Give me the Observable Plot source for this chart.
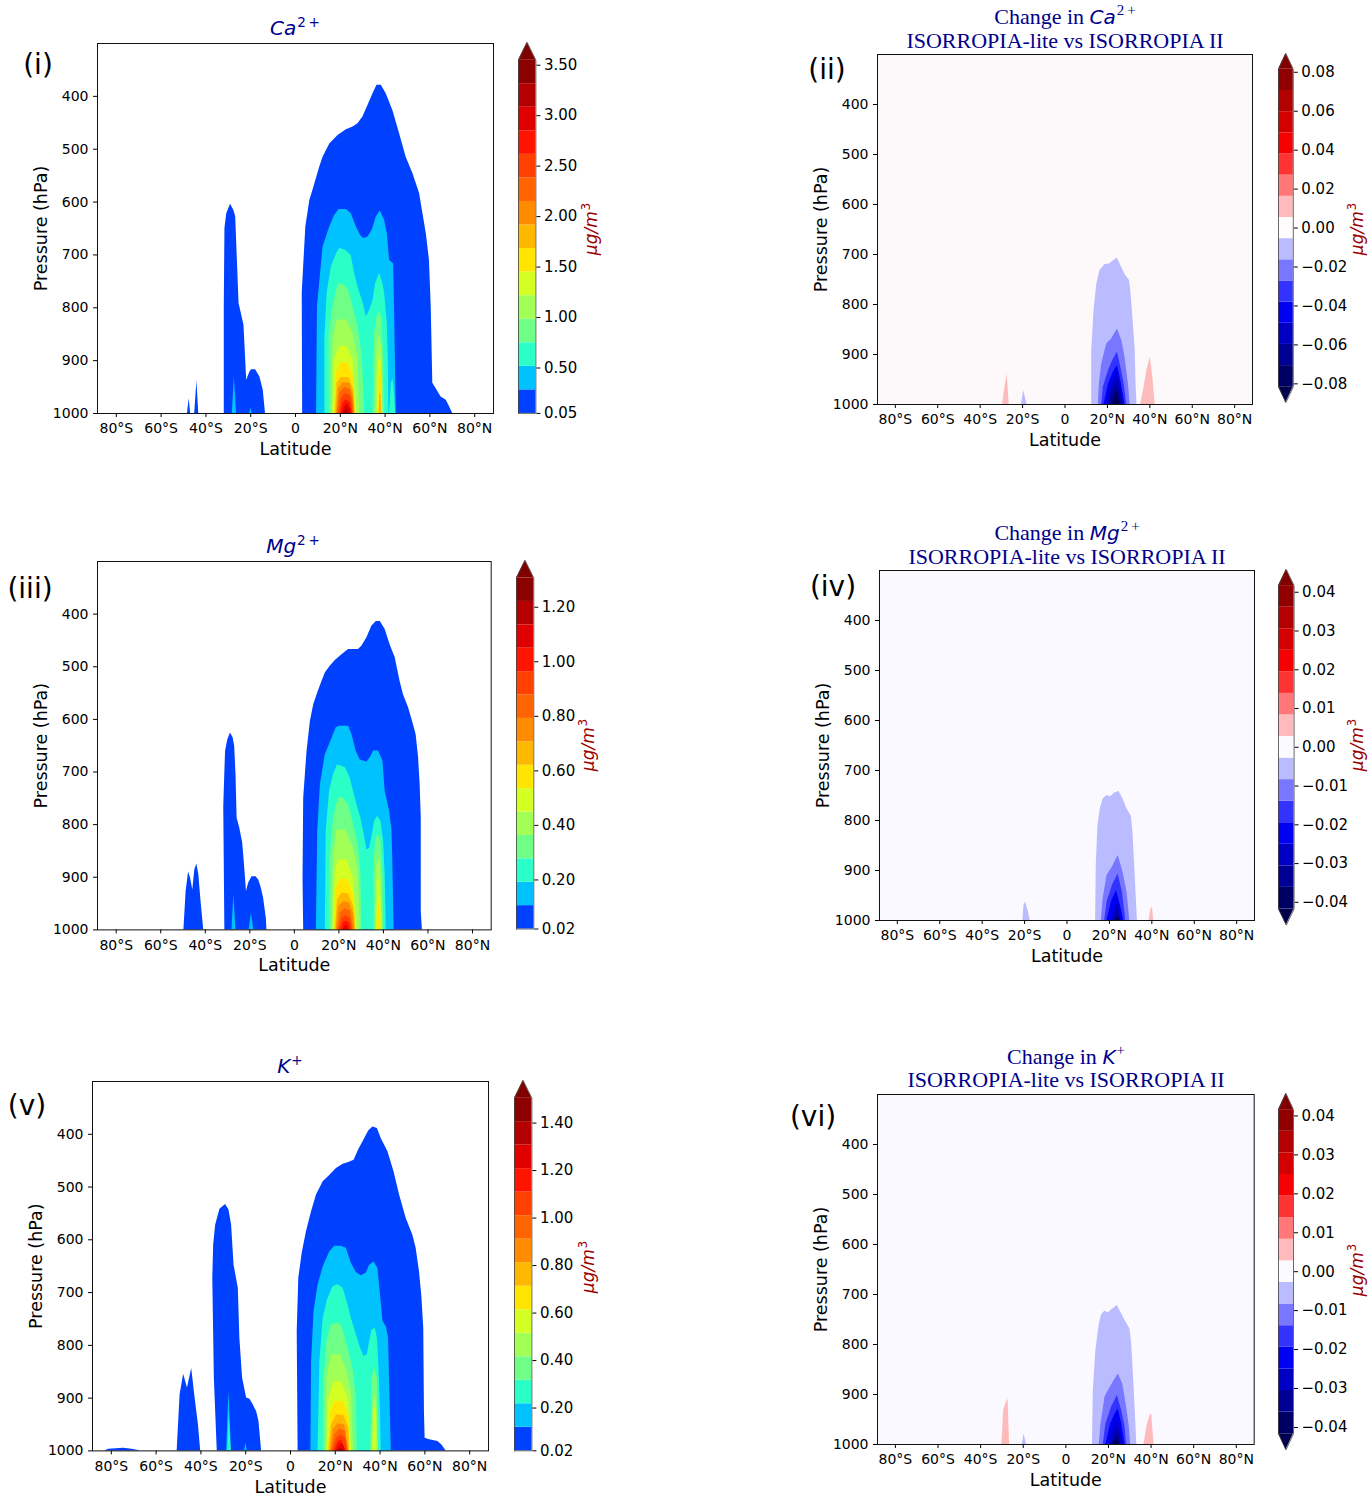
<!DOCTYPE html>
<html><head><meta charset="utf-8">
<script src="https://cdn.jsdelivr.net/npm/d3@7"></script>
<script src="https://cdn.jsdelivr.net/npm/@observablehq/plot@0.6"></script>
<style>
body{margin:0;background:#fff;}
#root{position:relative;width:1372px;height:1498px;overflow:hidden;font-family:"DejaVu Sans",sans-serif;background:#fff;}
.t{position:absolute;transform:translate(-50%,-50%);white-space:nowrap;line-height:1;}
.sup{font-size:0.68em;position:relative;top:-0.6em;font-style:normal;margin-left:1px;}
.mi{font-family:"DejaVu Sans",sans-serif;font-style:italic;}
</style></head><body><div id="root"></div>
<script>
// ---------- axes ticks ----------
const latTicks = [-80, -60, -40, -20, 0, 20, 40, 60, 80];
const presTicks = [400, 500, 600, 700, 800, 900, 1000];
const caTicks = [0.05, 0.5, 1.0, 1.5, 2.0, 2.5, 3.0, 3.5];
const mgTicks = [0.02, 0.2, 0.4, 0.6, 0.8, 1.0, 1.2];
const kTicks = [0.02, 0.2, 0.4, 0.6, 0.8, 1.0, 1.2, 1.4];
const caDiffTicks = [-0.08, -0.06, -0.04, -0.02, 0, 0.02, 0.04, 0.06, 0.08];
const smallDiffTicks = [-0.04, -0.03, -0.02, -0.01, 0, 0.01, 0.02, 0.03, 0.04];

// ---------- colour levels ----------
const jetColors = ["#0040ff","#00c2ff","#2affc8","#70ff86","#a2ff55","#d4ff22","#ffe500","#ffb800","#ff8c00","#ff6400","#ff4000","#ff1400","#e00000","#b40000","#8c0000"];
const jetOver = "#800000";
const negColors = ["#bbbbff","#7777ff","#3333ff","#0000f3","#0000c4","#000094","#000064","#00004c"];
const posColors = ["#ffbbbb","#ff7777","#ff3333","#f60000","#d40000","#b30000","#900000","#800000"];

// ---------- filled-contour outlines: per band, segments of [latitude, top pressure] ----------
const caBands = [
 [
  [[-48.2,1000],[-47.5,972],[-46.8,1000]],
  [[-45.0,1000],[-44.0,938],[-43.2,1000]],
  [[-31.8,1000],[-31.8,798],[-31.5,650],[-30.7,622],[-29.0,604],[-27.5,616],[-26.7,628],[-26.3,672],[-25.2,792],[-23.0,833],[-21.8,937],[-20.3,921],[-19.6,917],[-17.8,917],[-15.9,931],[-14.4,956],[-13.4,1000]],
  [[3.2,1000],[3.0,773],[4.6,647],[6.4,597],[8.2,572],[10.8,534],[12.3,515],[15.3,490],[19.0,474],[22.7,463],[25.7,458],[27.9,452],[30.1,439],[32.4,417],[34.6,395],[36.4,379],[38.3,379],[40.5,395],[43.5,427],[46.5,471],[49.4,515],[52.4,546],[55.4,584],[56.9,622],[58.4,660],[59.8,710],[60.6,798],[61.3,943],[62.8,953],[65.0,969],[67.3,975],[68.4,984],[70.2,1000]]
 ],
 [
  [[-28.2,1000],[-27.3,931],[-26.3,1000]],
  [[-20.5,1000],[-19.9,990],[-19.3,1000]],
  [[9.4,1000],[9.8,798],[12.3,685],[15.3,647],[17.5,625],[19.5,614],[22.7,614],[24.9,622],[27.2,647],[29.0,663],[30.4,669],[32.4,666],[34.3,653],[36.1,628],[37.9,617],[39.8,635],[41.0,660],[42.0,710],[43.8,717],[44.2,798],[45.0,1000]]
 ],
 [
  [[13.1,1000],[13.1,861],[14.1,773],[16.0,723],[18.3,698],[19.7,688],[22.4,691],[24.9,701],[26.4,735],[27.9,761],[30.1,789],[31.6,817],[33.1,805],[34.6,786],[35.8,754],[37.6,735],[39.0,754],[39.8,773],[41.0,830],[41.4,893],[41.7,1000]],
  [[42.0,1000],[42.8,943],[43.5,934],[44.2,962],[44.7,1000]]
 ],
 [
  [[15.0,1000],[15.0,849],[16.8,798],[18.3,767],[19.5,754],[21.5,757],[23.5,764],[25.7,798],[27.9,836],[29.8,893],[30.9,1000]],
  [[34.6,1000],[35.3,849],[36.4,817],[37.6,806],[38.6,824],[39.3,893],[39.8,1000]]
 ],
 [
  [[16.0,1000],[16.8,861],[18.6,824],[22.7,822],[25.7,849],[27.9,899],[28.7,1000]],
  [[35.6,1000],[36.4,874],[37.4,852],[38.5,874],[39.0,1000]]
 ],
 [
  [[16.8,1000],[17.5,899],[19.5,874],[23.0,873],[25.7,899],[27.2,1000]],
  [[36.4,1000],[37.0,906],[37.7,887],[38.3,906],[38.8,1000]]
 ],
 [
  [[17.4,1000],[18.3,924],[20.0,904],[23.5,904],[26.0,931],[26.7,1000]],
  [[37.0,1000],[37.4,924],[37.9,915],[38.3,931],[38.6,1000]]
 ],
 [
  [[17.8,1000],[18.6,943],[20.5,932],[23.9,932],[26.1,956],[26.6,1000]],
  [[37.3,1000],[37.7,962],[38.2,962],[38.5,1000]]
 ],
 [[[18.3,1000],[19.2,953],[21.2,942],[24.2,943],[26.0,969],[26.4,1000]]],
 [[[18.7,1000],[19.7,962],[22.0,951],[24.5,955],[25.8,981],[26.1,1000]]],
 [[[19.3,1000],[20.5,972],[22.4,962],[24.6,967],[25.7,1000]]],
 [[[20.0,1000],[21.2,980],[22.7,974],[24.5,980],[25.4,1000]]],
 [[[20.8,1000],[22.0,987],[23.0,982],[24.4,991],[24.9,1000]]],
 [[[21.5,1000],[22.7,992],[23.9,1000]]]
];

const mgBands = [
 [
  [[-49.6,1000],[-48.6,927],[-47.5,890],[-46.6,902],[-45.6,924],[-44.7,886],[-43.8,875],[-42.9,895],[-41.9,946],[-40.7,1000]],
  [[-31.2,1000],[-31.7,765],[-30.9,661],[-29.9,639],[-28.7,626],[-27.5,635],[-26.8,651],[-26.2,705],[-25.7,788],[-24.5,807],[-23.2,835],[-22.4,876],[-21.5,927],[-20.5,911],[-19.0,899],[-17.2,899],[-16.0,905],[-15.0,918],[-13.8,940],[-12.6,978],[-12.3,1000]],
  [[4.2,1000],[3.9,902],[4.2,750],[5.7,661],[7.2,604],[8.7,572],[10.5,550],[12.4,528],[13.9,512],[16.1,499],[18.4,488],[20.6,480],[22.9,472],[24.4,467],[28.8,467],[30.3,461],[32.6,445],[34.8,423],[36.8,414],[38.6,414],[40.8,429],[43.0,458],[45.3,483],[47.5,528],[49.0,553],[51.3,578],[53.5,610],[54.7,629],[55.8,673],[56.5,724],[57.0,788],[57.0,965],[57.5,1000]]
 ],
 [
  [[-28.0,1000],[-27.2,933],[-26.2,1000]],
  [[-20.3,1000],[-19.3,968],[-18.2,1000]],
  [[9.9,1000],[10.5,813],[11.7,724],[13.9,667],[16.1,645],[18.8,616],[20.3,613],[24.4,613],[25.9,629],[27.8,661],[29.6,677],[32.6,681],[34.1,673],[35.6,660],[37.8,660],[39.8,680],[40.8,737],[42.8,775],[43.8,810],[44.2,864],[44.8,1000]]
 ],
 [[[13.9,1000],[14.3,813],[15.8,737],[17.6,705],[19.4,686],[22.9,692],[25.1,712],[26.6,737],[28.1,762],[29.9,788],[31.4,819],[32.6,848],[33.8,845],[35.3,813],[36.0,794],[37.4,784],[38.9,794],[40.1,832],[40.8,895],[41.3,1000]]],
 [
  [[15.8,1000],[16.1,864],[17.3,800],[18.8,762],[20.3,748],[22.4,751],[24.4,762],[25.9,788],[27.4,813],[28.8,838],[29.9,895],[30.3,1000]],
  [[35.6,1000],[35.9,864],[36.8,826],[38.0,819],[38.9,832],[39.8,895],[40.1,1000]]
 ],
 [
  [[16.9,1000],[17.6,864],[19.1,810],[22.9,810],[26.6,845],[28.8,895],[29.6,1000]],
  [[36.3,1000],[37.1,876],[38.0,864],[38.9,876],[39.5,1000]]
 ],
 [
  [[17.6,1000],[18.4,889],[19.9,867],[23.6,867],[26.6,902],[28.1,1000]],
  [[36.8,1000],[37.7,902],[38.6,911],[39.2,1000]]
 ],
 [
  [[18.1,1000],[18.8,921],[20.9,903],[23.9,905],[26.6,933],[27.8,1000]],
  [[37.4,1000],[38.0,940],[38.7,1000]]
 ],
 [[[18.4,1000],[19.4,943],[21.4,930],[24.4,932],[26.9,959],[27.5,1000]]],
 [[[18.8,1000],[19.9,956],[22.1,946],[24.8,949],[26.6,971],[27.2,1000]]],
 [[[19.4,1000],[20.6,968],[22.9,960],[25.1,964],[26.6,1000]]],
 [[[20.0,1000],[21.4,978],[23.2,973],[25.1,978],[26.2,1000]]],
 [[[20.9,1000],[22.1,985],[23.3,983],[24.7,987],[25.4,1000]]],
 [[[21.7,1000],[23.3,990],[24.7,1000]]]
];

const kBands = [
 [
  [[-83.0,1000],[-81.2,997],[-74.5,995],[-70.8,997],[-66.7,1000]],
  [[-50.6,1000],[-49.3,894],[-47.7,855],[-46.0,881],[-44.1,844],[-42.6,900],[-41.1,951],[-40.1,1000]],
  [[-32.7,1000],[-34.0,862],[-34.7,673],[-34.3,610],[-33.4,572],[-31.5,542],[-29.0,533],[-27.5,543],[-26.3,572],[-25.2,648],[-23.3,692],[-22.6,787],[-21.4,862],[-19.6,900],[-18.1,902],[-16.6,913],[-15.1,926],[-14.1,944],[-12.9,1000]],
  [[3.4,1000],[3.0,774],[3.7,673],[5.2,626],[7.1,585],[9.4,547],[11.6,515],[14.6,490],[17.5,478],[20.5,465],[23.5,457],[25.7,454],[28.4,449],[30.4,430],[32.8,411],[34.9,394],[36.8,386],[38.8,389],[40.5,408],[43.5,433],[46.2,471],[48.7,515],[51.7,560],[54.6,591],[56.1,616],[57.6,661],[58.6,705],[59.5,768],[59.8,926],[60.1,976],[62.1,979],[65.8,982],[67.6,989],[69.5,1000]]
 ],
 [
  [[-28.5,1000],[-27.5,888],[-26.3,1000]],
  [[-20.5,1000],[-19.9,985],[-19.3,1000]],
  [[9.1,1000],[9.4,831],[10.5,736],[12.3,686],[14.6,651],[17.5,623],[19.7,612],[22.7,612],[24.9,616],[27.2,645],[29.4,662],[31.6,668],[33.9,663],[35.3,648],[37.3,642],[39.0,654],[40.2,705],[41.3,755],[42.8,765],[43.8,787],[44.2,862],[45.0,1000]]
 ],
 [
  [[-28.0,1000],[-27.3,926],[-26.6,1000]],
  [[12.3,1000],[13.1,831],[14.6,749],[16.5,714],[19.0,689],[21.2,685],[23.5,692],[25.7,724],[27.2,749],[29.4,780],[31.3,806],[32.8,821],[34.3,818],[35.3,793],[36.4,771],[37.9,768],[38.8,787],[39.5,844],[40.2,926],[40.5,1000]]
 ],
 [
  [[14.6,1000],[15.0,862],[16.3,793],[18.3,761],[20.9,757],[23.0,764],[25.7,806],[27.9,844],[29.4,900],[29.8,1000]],
  [[35.8,1000],[36.4,862],[37.6,844],[38.8,862],[39.3,1000]]
 ],
 [
  [[15.6,1000],[16.3,862],[18.3,818],[22.0,817],[24.9,844],[27.2,888],[28.1,1000]],
  [[36.4,1000],[37.0,900],[37.9,894],[38.8,926],[39.0,1000]]
 ],
 [
  [[16.3,1000],[17.2,900],[19.5,870],[22.7,869],[25.7,900],[27.2,1000]],
  [[36.8,1000],[37.4,919],[38.2,919],[38.6,1000]]
 ],
 [[[16.8,1000],[18.0,926],[20.0,905],[23.5,907],[26.0,932],[26.7,1000]]],
 [[[17.2,1000],[18.3,951],[20.5,932],[23.8,933],[26.0,957],[26.4,1000]]],
 [[[17.8,1000],[19.0,960],[21.2,948],[24.2,951],[26.1,1000]]],
 [[[18.3,1000],[19.7,970],[22.0,958],[24.5,963],[25.7,1000]]],
 [[[19.0,1000],[20.5,977],[22.4,970],[24.6,976],[25.4,1000]]],
 [[[19.7,1000],[21.2,984],[22.7,979],[24.9,1000]]],
 [[[20.5,1000],[22.0,989],[23.5,987],[24.5,1000]]],
 [[[21.2,1000],[22.7,994],[23.9,1000]]]
];

// differences: negative bands (index 0 = just below zero), positive bands
const caDiffNeg = [
 [[[-20.5,1000],[-19.5,972],[-17.9,1000]], [[12.6,1000],[12.6,892],[13.7,812],[15.0,759],[16.5,732],[18.9,720],[20.9,719],[22.8,713],[24.7,707],[26.3,722],[28.3,740],[30.4,752],[31.0,772],[32.0,825],[33.1,892],[33.5,959],[33.9,1000]]],
 [[[15.7,1000],[16.2,959],[17.3,919],[19.7,879],[22.0,869],[24.7,849],[26.8,872],[28.3,905],[29.9,959],[30.7,1000]]],
 [[[17.3,1000],[18.1,965],[20.5,932],[22.5,912],[24.7,895],[26.3,925],[27.9,959],[29.1,1000]]],
 [[[18.4,1000],[20.5,959],[22.8,935],[24.7,922],[26.3,952],[28.3,1000]]],
 [[[19.7,1000],[21.6,965],[23.6,945],[24.7,937],[26.0,959],[27.6,1000]]],
 [[[20.9,1000],[22.8,972],[24.7,959],[26.3,985],[27.2,1000]]],
 [[[22.0,1000],[23.6,982],[24.7,975],[26.0,1000]]],
 [[[23.1,1000],[24.4,989],[25.4,1000]]]
];
const caDiffPos = [
 [[[-29.4,1000],[-28.3,965],[-27.2,939],[-26.3,1000]], [[35.7,1000],[37.0,972],[38.6,932],[40.2,905],[41.4,945],[42.5,1000]]]
];
const mgDiffNeg = [
 [[[-20.8,1000],[-20.3,970],[-19.5,963],[-18.2,983],[-17.3,1000]], [[13.5,1000],[13.8,890],[14.6,810],[15.7,777],[17.0,757],[18.9,750],[20.4,753],[22.5,745],[24.5,742],[26.4,757],[28.3,777],[30.3,791],[31.1,823],[31.9,890],[32.7,957],[33.2,1000]]],
 [[[16.2,1000],[17.0,957],[18.9,910],[21.4,893],[24.1,870],[26.4,903],[28.3,943],[29.6,1000]]],
 [[[17.8,1000],[18.9,963],[21.4,930],[24.1,907],[26.1,943],[27.7,1000]]],
 [[[18.9,1000],[20.9,963],[23.3,940],[25.2,970],[26.7,1000]]],
 [[[20.9,1000],[22.5,977],[24.1,963],[25.6,1000]]],
 [[[22.2,1000],[23.7,983],[25.2,1000]]],
 [[[23.0,1000],[24.1,991],[24.8,1000]]],
 [[[23.4,1000],[24.0,995],[24.6,1000]]]
];
const mgDiffPos = [
 [[[38.7,1000],[39.6,977],[40.3,973],[40.9,1000]]]
];
const kDiffNeg = [
 [[[-20.4,1000],[-19.6,979],[-18.5,1000]], [[12.5,1000],[12.9,892],[14.1,812],[15.7,759],[16.8,740],[18.4,733],[19.9,737],[22.0,729],[24.2,722],[25.7,735],[27.8,752],[30.1,769],[30.9,799],[31.7,859],[32.5,925],[33.3,1000]]],
 [[[15.7,1000],[16.5,959],[18.4,905],[20.4,889],[22.3,875],[24.6,859],[26.7,879],[28.5,925],[29.8,965],[30.4,1000]]],
 [[[17.6,1000],[18.8,959],[21.5,925],[24.2,902],[26.2,932],[27.8,965],[28.5,1000]]],
 [[[18.8,1000],[21.0,959],[23.1,939],[24.6,929],[26.2,959],[27.8,1000]]],
 [[[20.4,1000],[22.3,972],[24.2,952],[25.7,979],[27.0,1000]]],
 [[[21.5,1000],[23.1,985],[24.5,972],[25.7,1000]]],
 [[[22.6,1000],[23.8,985],[25.1,1000]]],
 [[[23.2,1000],[24.0,991],[24.7,1000]]]
];
const kDiffPos = [
 [[[-30.0,1000],[-29.2,932],[-27.9,915],[-27.1,909],[-26.4,1000]], [[36.7,1000],[38.0,965],[39.5,942],[40.3,939],[41.4,1000]]]
];

// ---------- helpers ----------
const root = document.getElementById("root");
const fmtLat = d => d === 0 ? "0" : `${Math.abs(d)}°${d < 0 ? "S" : "N"}`;
const fmt2 = d => (d < 0 ? "\u2212" : "") + Math.abs(d).toFixed(2);

function place(el, left, top) {
  el.style.position = "absolute";
  el.style.left = left + "px";
  el.style.top = top + "px";
  root.appendChild(el);
}
function label(html, x, y, style) {
  const d = document.createElement("div");
  d.className = "t";
  d.innerHTML = html;
  d.style.left = x + "px";
  d.style.top = y + "px";
  Object.assign(d.style, style || {});
  root.appendChild(d);
}
function bandAreas(bands, colors) {
  return bands.map((segs, k) => {
    const rows = segs.flatMap((seg, s) => seg.map(([lat, p]) => ({lat, p, s})));
    return Plot.area(rows, {x1: "lat", y1: () => 1000, y2: "p", z: "s", fill: colors[k], curve: "linear"});
  });
}

function panel(cfg) {
  const mL = 80, mR = 8, mT = 8, mB = 52;
  const svg = Plot.plot({
    width: cfg.w + mL + mR, height: cfg.h + mT + mB,
    marginLeft: mL, marginRight: mR, marginTop: mT, marginBottom: mB,
    style: {fontFamily: "DejaVu Sans", fontSize: "14px", background: "transparent", color: "black", overflow: "visible"},
    x: {domain: [-88.4, 88.4], ticks: latTicks, tickFormat: fmtLat, tickSize: 4, tickPadding: 6, label: null},
    y: {domain: [1000, 300], ticks: presTicks, tickFormat: d => String(d), tickSize: 4, tickPadding: 5, label: null},
    marks: [
      cfg.bg ? Plot.frame({fill: cfg.bg}) : null,
      ...cfg.marks,
      Plot.text(["Latitude"], {text: d => d, frameAnchor: "bottom", dy: 36, textAnchor: "middle", lineAnchor: "middle", fontSize: 17.5}),
      Plot.text(["Pressure (hPa)"], {text: d => d, frameAnchor: "left", dx: -56, rotate: -90, textAnchor: "middle", lineAnchor: "middle", fontSize: 17.5}),
      Plot.frame({stroke: "#111", strokeWidth: 1})
    ]
  });
  place(svg, cfg.l - mL, cfg.t - mT);
}

function colorbar(cfg) {
  const {l, barTop, barBottom, barW, vmin, vmax, colors, extLow, extHigh, ticks} = cfg;
  const n = colors.length, step = (vmax - vmin) / n, ext = 0.05 * (vmax - vmin);
  const bands = colors.map((c, i) => ({lo: vmin + i * step, hi: vmin + (i + 1) * step, c}));
  const yTop = vmax + ext, yBot = extLow ? vmin - ext : vmin;
  const k = (barBottom - barTop) / (vmax - vmin);
  const mT = 3, mB = 3, mL = 1, mR = 80;
  const topTri = [{x: 0, y: vmax}, {x: 0.5, y: yTop}, {x: 1, y: vmax}];
  const botTri = [{x: 0, y: vmin}, {x: 0.5, y: yBot}, {x: 1, y: vmin}];
  const outline = [{x: 0, y: vmin}, {x: 0, y: vmax}, {x: 0.5, y: yTop}, {x: 1, y: vmax}, {x: 1, y: vmin}]
    .concat(extLow ? [{x: 0.5, y: yBot}] : []).concat([{x: 0, y: vmin}]);
  const svg = Plot.plot({
    width: barW + mL + mR, height: (yTop - yBot) * k + mT + mB,
    marginLeft: mL, marginRight: mR, marginTop: mT, marginBottom: mB,
    style: {fontFamily: "DejaVu Sans", fontSize: "15px", background: "transparent", color: "black", overflow: "visible"},
    x: {domain: [0, 1], axis: null},
    y: {domain: [yBot, yTop], axis: "right", ticks, tickFormat: fmt2, tickSize: 4, tickPadding: 4, label: null},
    color: {type: "identity"},
    marks: [
      Plot.rect(bands, {x1: () => 0, x2: () => 1, y1: "lo", y2: "hi", fill: "c"}),
      Plot.area(topTri, {x1: "x", y1: () => vmax, y2: "y", fill: extHigh}),
      extLow ? Plot.area(botTri, {x1: "x", y1: () => vmin, y2: "y", fill: extLow}) : null,
      Plot.line(outline, {x: "x", y: "y", stroke: "#444", strokeWidth: 0.8})
    ]
  });
  place(svg, l - mL, barTop - ext * k - mT);
}

const diffColors = negColors.slice(0, 7).reverse();
const caDiffBar = diffColors.concat(["#fffcfe"], posColors.slice(0, 7));
const smallDiffBar = diffColors.concat(["#fbfbff"], posColors.slice(0, 7));

// ---------- panels ----------
panel({l: 97.3, t: 43.3, w: 396, h: 370, marks: bandAreas(caBands, jetColors)});
panel({l: 877.3, t: 54, w: 375, h: 350, bg: "#fdf9fb", marks: [...bandAreas(caDiffNeg, negColors), ...bandAreas(caDiffPos, posColors)]});
panel({l: 97.3, t: 561.3, w: 393.7, h: 368.4, marks: bandAreas(mgBands, jetColors)});
panel({l: 879.3, t: 570, w: 375, h: 350, bg: "#f9f9ff", marks: [...bandAreas(mgDiffNeg, negColors), ...bandAreas(mgDiffPos, posColors)]});
panel({l: 92.3, t: 1081.3, w: 396, h: 369.4, marks: bandAreas(kBands, jetColors)});
panel({l: 877.3, t: 1094, w: 376.7, h: 350, bg: "#f9f9ff", marks: [...bandAreas(kDiffNeg, negColors), ...bandAreas(kDiffPos, posColors)]});

// ---------- colour bars ----------
colorbar({l: 518.3, barTop: 60, barBottom: 413.3, barW: 17.4, vmin: 0.05, vmax: 3.55, colors: jetColors, extHigh: jetOver, ticks: caTicks});
colorbar({l: 1277.7, barTop: 69.3, barBottom: 386.7, barW: 14.8, vmin: -0.0815, vmax: 0.0815, colors: caDiffBar, extLow: negColors[7], extHigh: posColors[7], ticks: caDiffTicks});
colorbar({l: 516, barTop: 578, barBottom: 929, barW: 17.3, vmin: 0.02, vmax: 1.307, colors: jetColors, extHigh: jetOver, ticks: mgTicks});
colorbar({l: 1277.7, barTop: 585, barBottom: 908.3, barW: 15.6, vmin: -0.0417, vmax: 0.0417, colors: smallDiffBar, extLow: negColors[7], extHigh: posColors[7], ticks: smallDiffTicks});
colorbar({l: 514.3, barTop: 1098, barBottom: 1450.7, barW: 17.4, vmin: 0.02, vmax: 1.505, colors: jetColors, extHigh: jetOver, ticks: kTicks});
colorbar({l: 1277.7, barTop: 1109.3, barBottom: 1433.3, barW: 15, vmin: -0.0416, vmax: 0.0416, colors: smallDiffBar, extLow: negColors[7], extHigh: posColors[7], ticks: smallDiffTicks});

// ---------- texts ----------
const navy = "#00008b", unitRed = "#9b0000";
const sansTitle = {fontSize: "20px", color: navy};
const serifTitle = {fontSize: "22px", color: navy, fontFamily: "'Liberation Serif', serif"};
const sup = s => `<span class="sup">${s}</span>`;
label(`<span class="mi">Ca</span>${sup("2&thinsp;+")}`, 295, 28, sansTitle);
label(`<span class="mi">Mg</span>${sup("2&thinsp;+")}`, 293, 546, sansTitle);
label(`<span class="mi">K</span>${sup("+")}`, 290, 1066, sansTitle);
label(`Change in <span class="mi" style="font-size:20px">Ca</span>${sup("2&thinsp;+")}`, 1065, 17, serifTitle);
label(`ISORROPIA-lite vs ISORROPIA II`, 1065, 41, serifTitle);
label(`Change in <span class="mi" style="font-size:20px">Mg</span>${sup("2&thinsp;+")}`, 1067, 533, serifTitle);
label(`ISORROPIA-lite vs ISORROPIA II`, 1067, 557, serifTitle);
label(`Change in <span class="mi" style="font-size:20px">K</span>${sup("+")}`, 1066, 1057, serifTitle);
label(`ISORROPIA-lite vs ISORROPIA II`, 1066, 1080, serifTitle);

const panelTag = {fontSize: "28px", color: "#000"};
label("(i)", 38, 65, panelTag);
label("(ii)", 827, 70, panelTag);
label("(iii)", 30, 589, panelTag);
label("(iv)", 833, 587, panelTag);
label("(v)", 27, 1106, panelTag);
label("(vi)", 813, 1117, panelTag);

const unitHtml = `<span class="mi">μg/m</span><span class="sup">3</span>`;
const unitStyle = {fontSize: "17px", color: unitRed, transform: "translate(-50%,-50%) rotate(-90deg)"};
label(unitHtml, 591, 229, unitStyle);
label(unitHtml, 1357, 229, unitStyle);
label(unitHtml, 588, 745, unitStyle);
label(unitHtml, 1357, 745, unitStyle);
label(unitHtml, 588, 1267, unitStyle);
label(unitHtml, 1357, 1270, unitStyle);
</script></body></html>
